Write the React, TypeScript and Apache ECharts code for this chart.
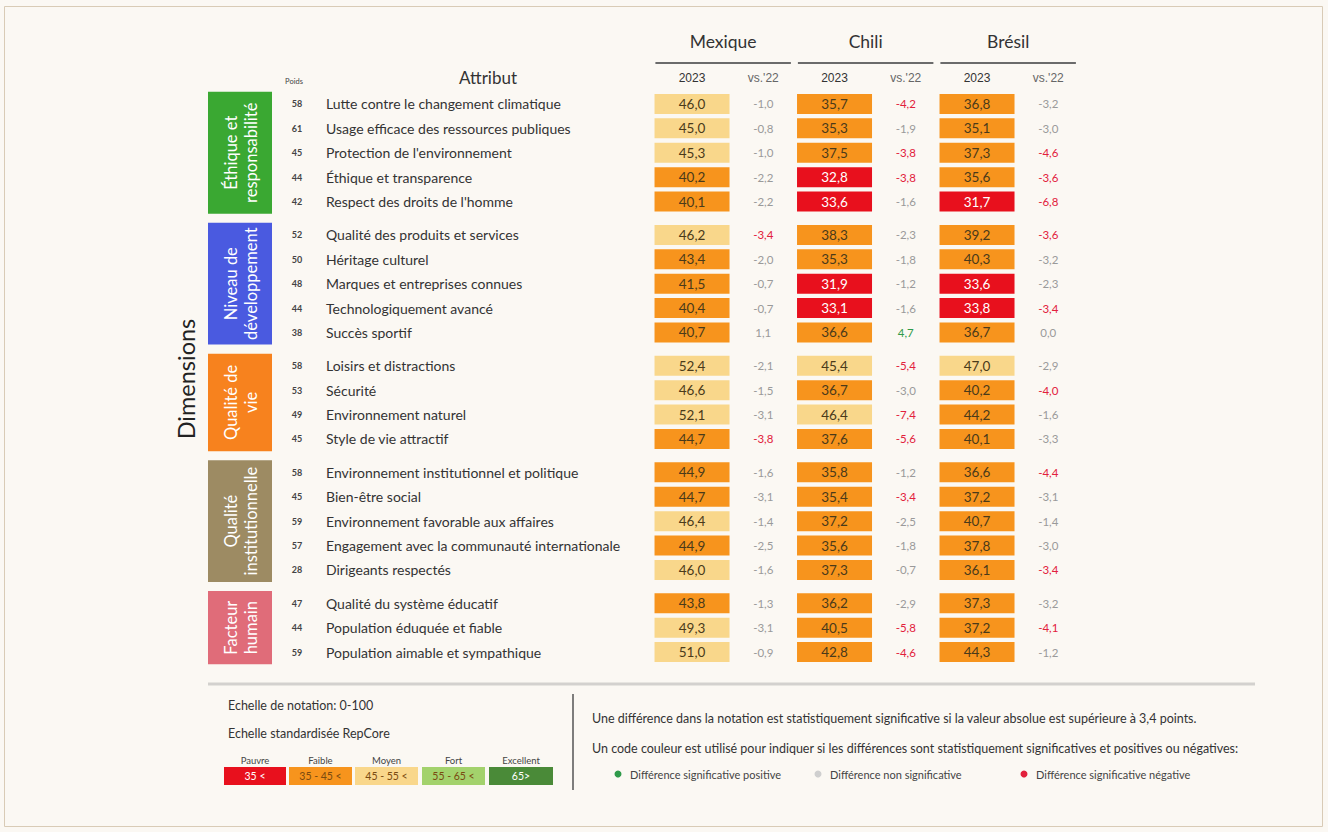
import React, { useEffect, useRef } from "react";
import * as echarts from "echarts";

// ---------------- DATA ----------------
const countries = ["Mexique", "Chili", "Brésil"];
const columnLabels = ["2023", "vs.'22", "2023", "vs.'22", "2023", "vs.'22"];
const dimensions = [
  "Éthique et\nresponsabilité",
  "Niveau de\ndéveloppement",
  "Qualité de\nvie",
  "Qualité\ninstitutionnelle",
  "Facteur\nhumain",
];
const dimensionSizes = [5, 5, 4, 5, 3];
const attributes = [
  "Lutte contre le changement climatique",
  "Usage efficace des ressources publiques",
  "Protection de l'environnement",
  "Éthique et transparence",
  "Respect des droits de l'homme",
  "Qualité des produits et services",
  "Héritage culturel",
  "Marques et entreprises connues",
  "Technologiquement avancé",
  "Succès sportif",
  "Loisirs et distractions",
  "Sécurité",
  "Environnement naturel",
  "Style de vie attractif",
  "Environnement institutionnel et politique",
  "Bien-être social",
  "Environnement favorable aux affaires",
  "Engagement avec la communauté internationale",
  "Dirigeants respectés",
  "Qualité du système éducatif",
  "Population éduquée et fiable",
  "Population aimable et sympathique",
];
const weights = ["58", "61", "45", "44", "42", "52", "50", "48", "44", "38", "58", "53", "49", "45", "58", "45", "59", "57", "28", "47", "44", "59"];

const mexique2023 = [46.0, 45.0, 45.3, 40.2, 40.1, 46.2, 43.4, 41.5, 40.4, 40.7, 52.4, 46.6, 52.1, 44.7, 44.9, 44.7, 46.4, 44.9, 46.0, 43.8, 49.3, 51.0];
const mexiqueDelta = [-1.0, -0.8, -1.0, -2.2, -2.2, -3.4, -2.0, -0.7, -0.7, 1.1, -2.1, -1.5, -3.1, -3.8, -1.6, -3.1, -1.4, -2.5, -1.6, -1.3, -3.1, -0.9];
const chili2023 = [35.7, 35.3, 37.5, 32.8, 33.6, 38.3, 35.3, 31.9, 33.1, 36.6, 45.4, 36.7, 46.4, 37.6, 35.8, 35.4, 37.2, 35.6, 37.3, 36.2, 40.5, 42.8];
const chiliDelta = [-4.2, -1.9, -3.8, -3.8, -1.6, -2.3, -1.8, -1.2, -1.6, 4.7, -5.4, -3.0, -7.4, -5.6, -1.2, -3.4, -2.5, -1.8, -0.7, -2.9, -5.8, -4.6];
const bresil2023 = [36.8, 35.1, 37.3, 35.6, 31.7, 39.2, 40.3, 33.6, 33.8, 36.7, 47.0, 40.2, 44.2, 40.1, 36.6, 37.2, 40.7, 37.8, 36.1, 37.3, 37.2, 44.3];
const bresilDelta = [-3.2, -3.0, -4.6, -3.6, -6.8, -3.6, -3.2, -2.3, -3.4, 0.0, -2.9, -4.0, -1.6, -3.3, -4.4, -3.1, -1.4, -3.0, -3.4, -3.2, -4.1, -1.2];

const scaleLabels = ["Pauvre", "Faible", "Moyen", "Fort", "Excellent"];
const scaleRanges = ["35 <", "35 - 45 <", "45 - 55 <", "55 - 65 <", "65>"];
const scaleBreaks = [35, 45, 55, 65];
const significanceThreshold = 3.4;
const diffLegend = ["Différence significative positive", "Différence non significative", "Différence significative négative"];
const noteLines = [
  "Echelle de notation: 0-100",
  "Echelle standardisée RepCore",
  "Une différence dans la notation est statistiquement significative si la valeur absolue est supérieure à 3,4 points.",
  "Un code couleur est utilisé pour indiquer si les différences sont statistiquement significatives et positives ou négatives:",
];

// ---------------- STYLE / LAYOUT ----------------
const FONT = "Lato, 'Noto Sans', sans-serif";
const BG = "#fbf8f3";
const DIM_COLORS = ["#3aa832", "#4a5ae0", "#f7821e", "#9d8b63", "#e06c79"];
const SCALE_COLORS = ["#e8101d", "#f7941d", "#f9d78b", "#a3d26c", "#4a8a38"];
const DELTA_COLORS = { pos: "#2f9a4a", neu: "#9a9a9a", neg: "#e2213c" };
const GAP = 0.37;
const GRID_LEFT = 656.4;
const GRID_TOP = 91.8;
const COL_W = 71.25;
const ROW_H = 24.38;
const CELL_W = 75;
const CELL_H = 20;

const rowPos: number[] = [];
(() => {
  let i = 0;
  dimensionSizes.forEach((n, b) => {
    for (let k = 0; k < n; k++) {
      rowPos.push(i + GAP * b);
      i++;
    }
  });
})();
const Y_MIN = -0.5;
const Y_MAX = rowPos[rowPos.length - 1] + 0.5;

const scaleClass = (v: number) => {
  let c = 0;
  scaleBreaks.forEach((b) => {
    if (v >= b) c++;
  });
  return c;
};
const fmt = (v: number) => v.toFixed(1).replace(".", ",");

export default function App() {
  const ref = useRef<HTMLDivElement>(null);
  useEffect(() => {
    if (!ref.current) return;
    const chart = echarts.init(ref.current, undefined, { renderer: "svg" });

    const values = [mexique2023, chili2023, bresil2023];
    const deltas = [mexiqueDelta, chiliDelta, bresilDelta];
    const cellData: number[][] = [];
    const deltaData: number[][] = [];
    values.forEach((arr, c) => arr.forEach((v, i) => cellData.push([2 * c, rowPos[i], v])));
    deltas.forEach((arr, c) => arr.forEach((d, i) => deltaData.push([2 * c + 1, rowPos[i], d])));
    const attrData = attributes.map((_, i) => [0, rowPos[i], i]);
    const blockData: number[][] = [];
    {
      let start = 0;
      dimensionSizes.forEach((n, b) => {
        blockData.push([0, rowPos[start], rowPos[start + n - 1], b]);
        start += n;
      });
    }

    const gridH = (Y_MAX - Y_MIN) * ROW_H;
    const gridW = COL_W * columnLabels.length;

    const graphic: any[] = [];
    graphic.push({
      type: "rect",
      silent: true,
      shape: { x: 4.5, y: 6.5, width: 1318, height: 820 },
      style: { fill: BG, stroke: "#d9cbb6", lineWidth: 1 },
      z: -10,
    });
    graphic.push({
      type: "text",
      x: 186,
      y: 379,
      rotation: Math.PI / 2,
      style: { text: "Dimensions", font: `23.5px ${FONT}`, fill: "#222", align: "center", verticalAlign: "middle" },
    });
    graphic.push({
      type: "text",
      x: 488,
      y: 77,
      style: { text: "Attribut", font: `17px ${FONT}`, fill: "#333", align: "center", verticalAlign: "middle" },
    });
    graphic.push({
      type: "text",
      x: 294,
      y: 81,
      style: { text: "Poids", font: `7.5px ${FONT}`, fill: "#444", align: "center", verticalAlign: "middle" },
    });
    countries.forEach((name, k) => {
      const x0 = GRID_LEFT + 2 * k * COL_W - 1;
      const w = 2 * COL_W - 7;
      graphic.push({
        type: "line",
        shape: { x1: x0, y1: 63, x2: x0 + w, y2: 63 },
        style: { stroke: "#6b6b6b", lineWidth: 2 },
      });
      graphic.push({
        type: "text",
        x: x0 + w / 2,
        y: 41,
        style: { text: name, font: `17.5px ${FONT}`, fill: "#333", align: "center", verticalAlign: "middle" },
      });
    });
    // separators
    graphic.push({ type: "line", shape: { x1: 208, y1: 684, x2: 1255, y2: 684 }, style: { stroke: "#d3d1ce", lineWidth: 3 } });
    graphic.push({ type: "line", shape: { x1: 573, y1: 694, x2: 573, y2: 790 }, style: { stroke: "#555", lineWidth: 1.5 } });
    // left legend
    graphic.push({ type: "text", x: 228, y: 705, style: { text: noteLines[0], font: `12.5px ${FONT}`, fill: "#333", verticalAlign: "middle" } });
    graphic.push({ type: "text", x: 228, y: 733, style: { text: noteLines[1], font: `12.5px ${FONT}`, fill: "#333", verticalAlign: "middle" } });
    const boxX = [224, 289, 355, 422, 489];
    const boxW = [62, 63, 63, 63, 64];
    scaleLabels.forEach((lab, k) => {
      graphic.push({
        type: "text",
        x: boxX[k] + boxW[k] / 2,
        y: 760,
        style: { text: lab, font: `9.5px ${FONT}`, fill: "#444", align: "center", verticalAlign: "middle" },
      });
      graphic.push({
        type: "rect",
        shape: { x: boxX[k], y: 767, width: boxW[k], height: 18 },
        style: { fill: SCALE_COLORS[k] },
      });
      graphic.push({
        type: "text",
        x: boxX[k] + boxW[k] / 2,
        y: 776,
        style: {
          text: scaleRanges[k],
          font: `10.5px ${FONT}`,
          fill: k === 0 || k === 4 ? "#fff" : "#7a4a10",
          align: "center",
          verticalAlign: "middle",
        },
      });
    });
    // right legend
    graphic.push({ type: "text", x: 592, y: 718, style: { text: noteLines[2], font: `12.5px ${FONT}`, fill: "#333", verticalAlign: "middle" } });
    graphic.push({ type: "text", x: 592, y: 748, style: { text: noteLines[3], font: `12.5px ${FONT}`, fill: "#333", verticalAlign: "middle" } });
    const dotX = [618, 818, 1024];
    const dotC = [DELTA_COLORS.pos, "#cfcfcf", DELTA_COLORS.neg];
    diffLegend.forEach((lab, k) => {
      graphic.push({ type: "circle", shape: { cx: dotX[k], cy: 774, r: 3.5 }, style: { fill: dotC[k] } });
      graphic.push({
        type: "text",
        x: dotX[k] + 12,
        y: 774,
        style: { text: lab, font: `11px ${FONT}`, fill: "#444", verticalAlign: "middle" },
      });
    });

    chart.setOption({
      animation: false,
      backgroundColor: BG,
      grid: {
        left: GRID_LEFT,
        top: GRID_TOP,
        width: gridW,
        height: gridH,
        outerBoundsMode: "none",
      },
      xAxis: {
        type: "category",
        data: columnLabels,
        position: "top",
        axisLine: { show: false },
        axisTick: { show: false },
        splitLine: { show: false },
        axisLabel: {
          margin: 8,
          interval: 0,
          formatter: (val: string, idx: number) => (idx % 2 === 0 ? `{y|${val}}` : `{v|${val}}`),
          rich: {
            y: { font: `bold 14.5px ${FONT}`, color: "#333" },
            v: { font: `9px ${FONT}`, color: "#666" },
          },
        },
      },
      yAxis: {
        type: "value",
        inverse: true,
        min: Y_MIN,
        max: Y_MAX,
        show: false,
      },
      series: [
        {
          type: "custom",
          name: "blocks",
          data: blockData,
          renderItem: (_p: any, api: any) => {
            const ps = api.value(1);
            const pe = api.value(2);
            const b = api.value(3);
            const y1 = api.coord([0, ps - 0.5])[1];
            const y2 = api.coord([0, pe + 0.5])[1];
            return {
              type: "group",
              children: [
                { type: "rect", shape: { x: 208, y: y1, width: 64, height: y2 - y1 }, style: { fill: DIM_COLORS[b] } },
                {
                  type: "text",
                  x: 241,
                  y: (y1 + y2) / 2,
                  rotation: Math.PI / 2,
                  style: {
                    text: dimensions[b],
                    font: `16.5px ${FONT}`,
                    lineHeight: 20,
                    fill: "#fff",
                    align: "center",
                    verticalAlign: "middle",
                  },
                },
              ],
            };
          },
        },
        {
          type: "custom",
          name: "attributes",
          data: attrData,
          renderItem: (_p: any, api: any) => {
            const p = api.value(1);
            const i = api.value(2);
            const y = api.coord([0, p])[1];
            return {
              type: "group",
              children: [
                {
                  type: "text",
                  x: 297,
                  y,
                  style: { text: weights[i], font: `bold 9px ${FONT}`, fill: "#444", align: "center", verticalAlign: "middle" },
                },
                {
                  type: "text",
                  x: 326,
                  y,
                  style: { text: attributes[i], font: `14px ${FONT}`, fill: "#333", align: "left", verticalAlign: "middle" },
                },
              ],
            };
          },
        },
        {
          type: "custom",
          name: "cells",
          data: cellData,
          renderItem: (_p: any, api: any) => {
            const col = api.value(0);
            const p = api.value(1);
            const v = api.value(2);
            const [cx, cy] = api.coord([col, p]);
            const cls = scaleClass(v);
            return {
              type: "group",
              children: [
                {
                  type: "rect",
                  shape: { x: cx - CELL_W / 2, y: cy - CELL_H / 2, width: CELL_W, height: CELL_H },
                  style: { fill: SCALE_COLORS[cls] },
                },
                {
                  type: "text",
                  x: cx,
                  y: cy,
                  style: {
                    text: fmt(v),
                    font: `13.5px ${FONT}`,
                    fill: cls === 0 || cls === 4 ? "#fff" : "#4a3a1a",
                    align: "center",
                    verticalAlign: "middle",
                  },
                },
              ],
            };
          },
        },
        {
          type: "custom",
          name: "deltas",
          data: deltaData,
          renderItem: (_p: any, api: any) => {
            const col = api.value(0);
            const p = api.value(1);
            const d = api.value(2);
            const [cx, cy] = api.coord([col, p]);
            const color =
              Math.abs(d) >= significanceThreshold - 1e-9 ? (d > 0 ? DELTA_COLORS.pos : DELTA_COLORS.neg) : DELTA_COLORS.neu;
            return {
              type: "text",
              x: cx,
              y: cy,
              style: { text: fmt(d), font: `11.5px ${FONT}`, fill: color, align: "center", verticalAlign: "middle" },
            };
          },
        },
      ],
      graphic,
    });
    return () => chart.dispose();
  }, []);
  return (
    <div
      ref={ref}
      style={{ position: "fixed", left: 0, top: 0, width: 1328, height: 832, background: BG }}
    />
  );
}
